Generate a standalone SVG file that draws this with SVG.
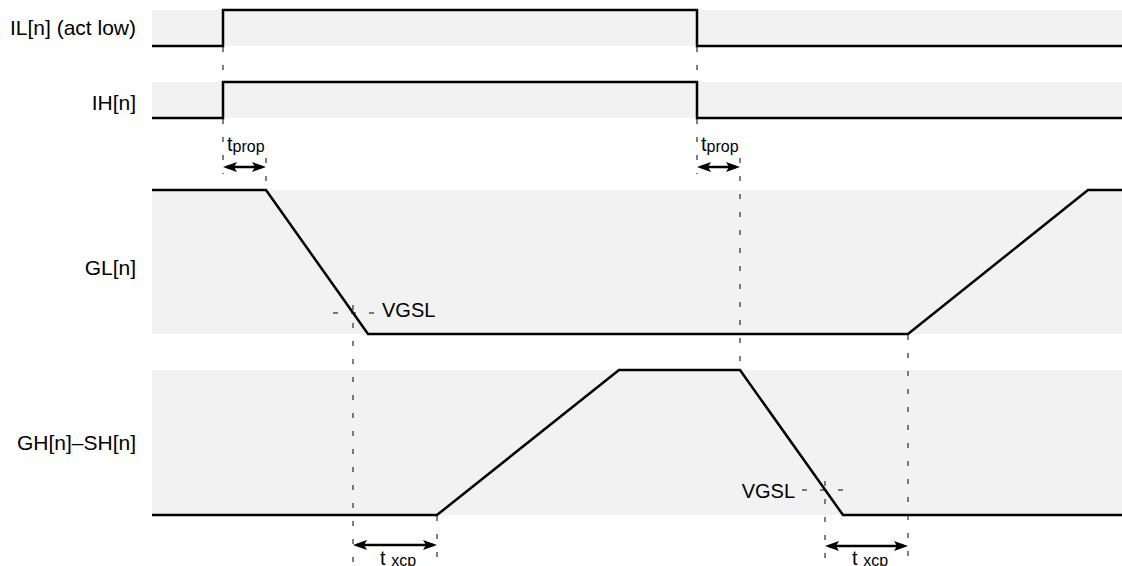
<svg xmlns="http://www.w3.org/2000/svg" width="1122" height="566" viewBox="0 0 1122 566">
<style>
.band{fill:#f2f2f2;stroke:none}
.sig{fill:none;stroke:#000;stroke-width:2.5;stroke-linejoin:miter}
.dash{fill:none;stroke:#000;stroke-width:1;stroke-dasharray:5 13}
.arr{fill:none;stroke:#000;stroke-width:2.5;marker-start:url(#ah);marker-end:url(#ah)}
.lbl{font-family:"Liberation Sans",Arial,sans-serif;font-size:21px;fill:#000}
.ann{font-family:"Liberation Sans",Arial,sans-serif;font-size:20px;fill:#000}
.sub{font-size:16px}
</style>
<defs>
<marker id="ah" viewBox="0 0 14 10" refX="10" refY="5" markerWidth="14" markerHeight="10" markerUnits="userSpaceOnUse" orient="auto-start-reverse">
<path d="M0,0 L14,5 L0,10 L3,5 z" fill="#000"/>
</marker>
</defs>
<rect width="1122" height="566" fill="#fff"/>
<g id="IL">
<rect class="band" x="152" y="10" width="970" height="36"/>
<text class="lbl" x="136" y="35" text-anchor="end">IL[n] (act low)</text>
<path class="sig" d="M152,46 H223 V10 H697 V46 H1122"/>
</g>
<g id="IH">
<rect class="band" x="152" y="82" width="970" height="36"/>
<text class="lbl" x="136" y="110" text-anchor="end">IH[n]</text>
<path class="sig" d="M152,118 H223 V82 H697 V118 H1122"/>
</g>
<g id="GL">
<rect class="band" x="152" y="190" width="970" height="144"/>
<text class="lbl" x="136" y="275" text-anchor="end">GL[n]</text>
<path class="sig" d="M152,190 H266 L368,334 H908 L1088,190 H1122"/>
</g>
<g id="GH">
<rect class="band" x="152" y="370" width="970" height="145"/>
<text class="lbl" x="136" y="450" text-anchor="end">GH[n]–SH[n]</text>
<path class="sig" d="M152,515 H437 L619,370 H740 L843,515 H1122"/>
</g>
<g id="connectors">
<line class="dash" x1="223" y1="47" x2="223" y2="174"/>
<line class="dash" x1="266" y1="158" x2="266" y2="192"/>
<line class="dash" x1="697" y1="47" x2="697" y2="174"/>
<line class="dash" x1="740" y1="158" x2="740" y2="372"/>
<line class="dash" x1="353" y1="305" x2="353" y2="566"/>
<line class="dash" x1="437" y1="516" x2="437" y2="566"/>
<line class="dash" x1="908" y1="335" x2="908" y2="566"/>
<line class="dash" x1="825" y1="481" x2="825" y2="566"/>
<line class="dash" x1="333" y1="313" x2="377" y2="313"/>
<line class="dash" x1="802" y1="490" x2="846" y2="490"/>
<line class="arr" x1="227" y1="167" x2="262" y2="167"/>
<line class="arr" x1="701" y1="167" x2="736" y2="167"/>
<line class="arr" x1="357" y1="545" x2="433" y2="545"/>
<line class="arr" x1="829" y1="546" x2="904" y2="546"/>
</g>
<g id="labels">
<text class="ann" x="382" y="317">VGSL</text>
<text class="ann" x="795" y="498" text-anchor="end">VGSL</text>
<text class="ann" x="227" y="151">t<tspan class="sub" dy="1">prop</tspan></text>
<text class="ann" x="701" y="151">t<tspan class="sub" dy="1">prop</tspan></text>
<text class="ann" x="380" y="565">t <tspan class="sub" dy="1">xcp</tspan></text>
<text class="ann" x="852" y="565">t <tspan class="sub" dy="1">xcp</tspan></text>
</g>
</svg>
